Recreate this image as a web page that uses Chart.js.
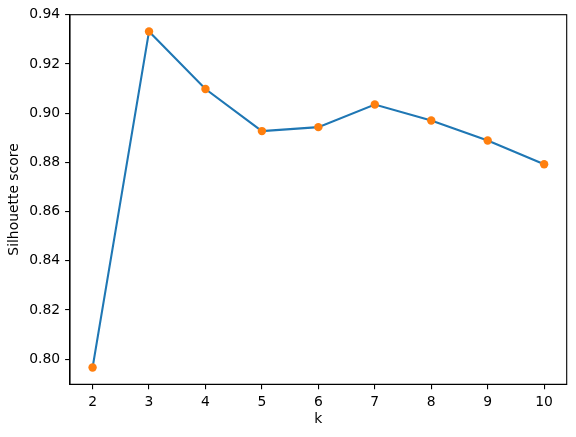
<!DOCTYPE html>
<html>
<head>
<meta charset="utf-8">
<script src="https://cdn.jsdelivr.net/npm/chart.js@4.4.1/dist/chart.umd.min.js"></script>
<style>
  html, body { margin: 0; padding: 0; background: #fff; }
  canvas { display: block; }
</style>
</head>
<body>
<canvas id="myChart" width="576" height="437"></canvas>
<script>
// silhouette score per number of clusters
const ks = [2, 3, 4, 5, 6, 7, 8, 9, 10];
const scores = [0.7966, 0.9332, 0.9098, 0.8927, 0.8943, 0.9035, 0.8970, 0.8889, 0.8792];
const xTicks = [2, 3, 4, 5, 6, 7, 8, 9, 10];
const yTicks = [0.80, 0.82, 0.84, 0.86, 0.88, 0.90, 0.92, 0.94];

const font = { family: "DejaVu Sans", size: 13.9 };

// matplotlib-like full box around the axes
const frame = {
  id: "frame",
  afterDraw(chart) {
    const { ctx, chartArea: a } = chart;
    ctx.save();
    ctx.strokeStyle = "#000";
    ctx.lineWidth = 1.1;
    ctx.strokeRect(a.left, a.top, a.right - a.left, a.bottom - a.top);
    ctx.restore();
  },
};

const ctx = document.getElementById("myChart").getContext("2d");
new Chart(ctx, {
  type: "line",
  data: {
    datasets: [
      {
        data: ks.map((k, i) => ({ x: k, y: scores[i] })),
        borderColor: "#1f77b4",
        borderWidth: 2.1,
        pointRadius: 4.2,
        pointBackgroundColor: "#ff7f0e",
        pointBorderColor: "#ff7f0e",
        pointBorderWidth: 0,
        tension: 0,
      },
    ],
  },
  options: {
    responsive: false,
    devicePixelRatio: 1,
    animation: false,
    layout: { padding: { top: 14.7, right: 9.3, left: 0, bottom: 0 } },
    plugins: { legend: { display: false }, tooltip: { enabled: false } },
    scales: {
      x: {
        type: "linear",
        min: 1.6,
        max: 10.4,
        afterBuildTicks: (s) => { s.ticks = xTicks.map((v) => ({ value: v })); },
        afterFit: (s) => { s.height = 52.7; },
        ticks: { color: "#000", font, padding: 4.9, maxRotation: 0, callback: (v) => String(v) },
        grid: { drawOnChartArea: false, drawTicks: true, tickLength: 4.9, lineWidth: 1.1, color: "#000" },
        border: { display: true, color: "#000", width: 1.1 },
        title: { display: true, text: "k", color: "#000", font, padding: { top: 2, bottom: 9 } },
      },
      y: {
        min: 0.7898,
        max: 0.9400,
        afterBuildTicks: (s) => { s.ticks = yTicks.map((v) => ({ value: v })); },
        afterFit: (s) => { s.width = 70; },
        ticks: { color: "#000", font, padding: 4.9, callback: (v) => v.toFixed(2) },
        grid: { drawOnChartArea: false, drawTicks: true, tickLength: 4.9, lineWidth: 1.1, color: "#000" },
        border: { display: true, color: "#000", width: 1.1 },
        title: { display: true, text: "Silhouette score", color: "#000", font, padding: { top: 5.7, bottom: 2 } },
      },
    },
  },
  plugins: [frame],
});
</script>
</body>
</html>
